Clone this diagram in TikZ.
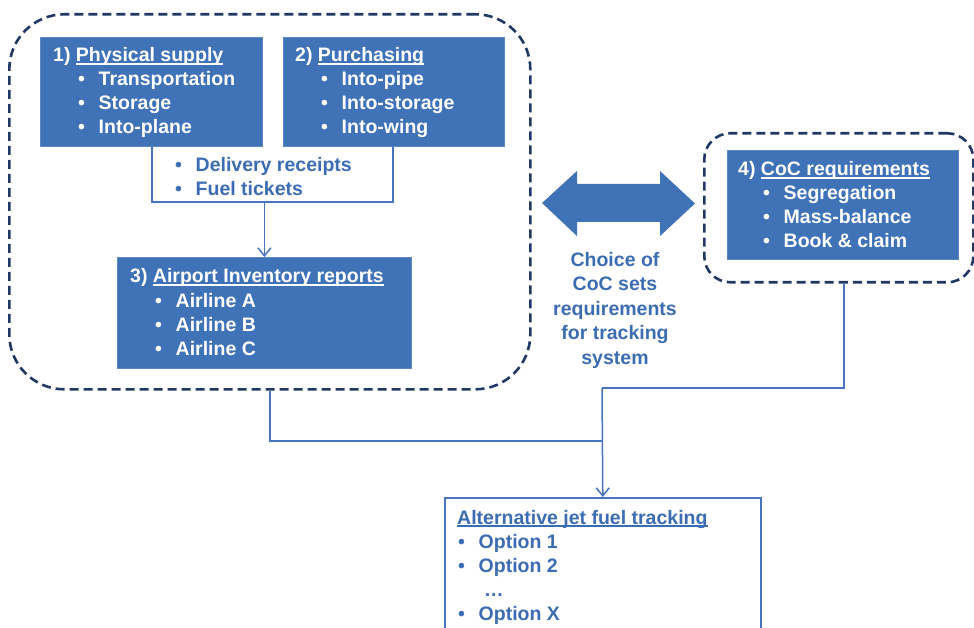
\documentclass[tikz,border=0pt]{standalone}
\usepackage{fontspec}
\setmainfont{Liberation Sans}
\usetikzlibrary{arrows.meta}

\definecolor{boxblue}{RGB}{63,114,183}
\definecolor{textblue}{RGB}{60,108,178}
\definecolor{linkblue}{RGB}{70,116,190}
\definecolor{navy}{RGB}{33,55,100}

% underlined heading: rule slightly below the baseline, crossing descenders
\newcommand\ulhead[1]{\setbox0=\hbox{#1}\rlap{\rule[-2.6pt]{\wd0}{1.4pt}}\box0}
% bullet item with a fixed hanging indent
\newcommand\bitem[1]{\makebox[20.5pt][l]{\textbullet}#1}

\tikzset{
  fillbox/.style={draw=boxblue!85!white, line width=0.8pt, fill=boxblue, inner sep=0pt, anchor=north west},
  outbox/.style={draw=linkblue, line width=1.6pt, fill=white, inner sep=0pt, anchor=north west},
  groupbox/.style={draw=navy, line width=2.6pt, dash pattern=on 9pt off 5pt, inner sep=0pt, anchor=north west},
  wtxt/.style={text=white, font=\bfseries\fontsize{19.5}{24}\selectfont, inner sep=0pt, anchor=base west},
  btxt/.style={text=textblue, font=\bfseries\fontsize{19.5}{24}\selectfont, inner sep=0pt, anchor=base west},
  ctxt/.style={text=textblue, font=\bfseries\fontsize{19.5}{24}\selectfont, inner sep=0pt, anchor=base},
  conn/.style={draw=linkblue, line width=1.5pt},
  arr/.style={conn, -{Straight Barb[length=8pt, width=13pt, line width=1.5pt]}},
}

\begin{document}
\begin{tikzpicture}[x=1pt, y=-1pt]
\useasboundingbox (0,0) rectangle (974,628);
\clip (0,0) rectangle (974,628);

% dashed grouping frames
\node[groupbox, rounded corners=55pt, minimum width=521pt, minimum height=375pt] (grp) at (8,13) {};
\node[groupbox, rounded corners=26pt, minimum width=269pt, minimum height=149pt] (cocgrp) at (703,132) {};

% 1) Physical supply
\node[fillbox, minimum width=222pt, minimum height=109pt] (phys) at (40,37) {};
\node[wtxt] (physT) at (53,62) {1) \ulhead{Physical supply}};
\node[wtxt] (physA) at (78,86) {\bitem{Transportation}};
\node[wtxt] (physB) at (78,110) {\bitem{Storage}};
\node[wtxt] (physC) at (78,134) {\bitem{Into-plane}};

% 2) Purchasing
\node[fillbox, minimum width=221pt, minimum height=109pt] (purch) at (283,37) {};
\node[wtxt] (purchT) at (295,62) {2) \ulhead{Purchasing}};
\node[wtxt] (purchA) at (321,86) {\bitem{Into-pipe}};
\node[wtxt] (purchB) at (321,110) {\bitem{Into-storage}};
\node[wtxt] (purchC) at (321,134) {\bitem{Into-wing}};

% 3) Airport inventory reports
\node[fillbox, minimum width=294pt, minimum height=111pt] (inv) at (117,257) {};
\node[wtxt] (invT) at (130,283) {3) \ulhead{Airport Inventory reports}};
\node[wtxt] (invA) at (155,307) {\bitem{Airline A}};
\node[wtxt] (invB) at (155,331) {\bitem{Airline B}};
\node[wtxt] (invC) at (155,355) {\bitem{Airline C}};

% 4) CoC requirements
\node[fillbox, minimum width=231pt, minimum height=109pt] (coc) at (727,150) {};
\node[wtxt] (cocT) at (738,176) {4) \ulhead{CoC requirements}};
\node[wtxt] (cocA) at (763,200) {\bitem{Segregation}};
\node[wtxt] (cocB) at (763,224) {\bitem{Mass-balance}};
\node[wtxt] (cocC) at (763,248) {\bitem{Book \& claim}};

% documents passed from supply and purchasing to the inventory
\coordinate (brL) at (152,202);
\coordinate (brR) at (393,202);
\draw[conn] (phys.south -| brL) |- (brR) -- (purch.south -| brR);
\node[btxt] (docA) at (175,172) {\bitem{Delivery receipts}};
\node[btxt] (docB) at (175,196) {\bitem{Fuel tickets}};
\draw[arr] (inv.north |- brL) -- (inv.north);

% two-way block arrow
\fill[boxblue] (542,203) -- (577,171) -- (577,184) -- (660,184) -- (660,171)
  -- (695,203.5) -- (660,236) -- (660,222) -- (577,222) -- (577,236) -- cycle;
\foreach \t [count=\i] in {Choice of, CoC sets, requirements, for tracking, system}
  \node[ctxt] (choice\i) at (615,{266+24.6*(\i-1)}) {\t};

% tracking options
\node[outbox, minimum width=316pt, minimum height=200pt] (track) at (444,497) {};
\node[btxt] (trackT) at (457,524) {\ulhead{Alternative jet fuel tracking}};
\node[btxt] (trackA) at (458,548) {\bitem{Option 1}};
\node[btxt] (trackB) at (458,572) {\bitem{Option 2}};
\node[btxt] (trackD) at (484,596) {\dots};
\node[btxt] (trackC) at (458,620) {\bitem{Option X}};

% feeds into the tracking box
\coordinate (elbow) at (602,388);
\coordinate (join) at (602,441);
\draw[conn] ([xshift=5pt]cocgrp.south) |- (elbow);
\draw[conn] (grp.south) |- (join);
\draw[arr] (elbow) -- (track.north);
\end{tikzpicture}
\end{document}
